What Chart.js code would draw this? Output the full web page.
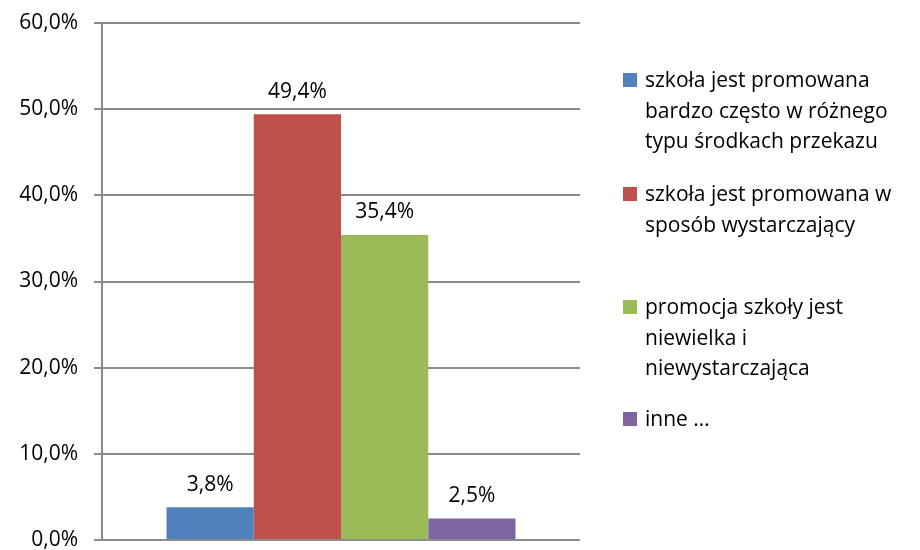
<!DOCTYPE html>
<html>
<head>
<meta charset="utf-8">
<script src="https://cdn.jsdelivr.net/npm/chart.js@4/dist/chart.umd.min.js"></script>
<style>
  html, body { margin: 0; padding: 0; background: #fff; }
  #wrap { position: relative; width: 920px; height: 550px; }
  #c { display: block; }
  #legend { position: absolute; left: 623px; top: 0; font-family: "Open Sans", sans-serif; font-size: 21px; color: #000; }
  .item { position: absolute; left: 0; width: 300px; }
  .sw { position: absolute; left: 0; top: 9px; width: 14px; height: 14px; }
  .txt { position: absolute; left: 22px; top: 0; line-height: 30.5px; white-space: nowrap; }
</style>
</head>
<body>
<div id="wrap">
  <canvas id="c" width="920" height="550"></canvas>
  <div id="legend"></div>
</div>
<script>
const categories = [''];
const seriesNames = [
  ['szkoła jest promowana', 'bardzo często w różnego', 'typu środkach przekazu'],
  ['szkoła jest promowana w', 'sposób wystarczający'],
  ['promocja szkoły jest', 'niewielka i', 'niewystarczająca'],
  ['inne …']
];
const seriesValues = [3.8, 49.4, 35.4, 2.5];
const seriesColors = ['#4F81BD', '#C0504D', '#9BBB59', '#8064A2'];
const yTicks = [0, 10, 20, 30, 40, 50, 60];

const FONT = '"Open Sans", sans-serif';
const fmt = v => v.toFixed(1).replace('.', ',') + '%';

const labelPlugin = {
  id: 'barLabels',
  afterDatasetsDraw(chart) {
    const ctx = chart.ctx;
    ctx.save();
    ctx.font = '21px ' + FONT;
    ctx.fillStyle = '#000';
    ctx.textAlign = 'center';
    ctx.textBaseline = 'bottom';
    chart.data.datasets.forEach((ds, i) => {
      const meta = chart.getDatasetMeta(i);
      meta.data.forEach((bar, j) => {
        ctx.fillText(fmt(ds.data[j]), bar.x, bar.y - 12);
      });
    });
    ctx.restore();
  }
};

const datasets = seriesValues.map((v, i) => ({
  label: seriesNames[i].join(' '),
  data: [v],
  backgroundColor: seriesColors[i],
  borderWidth: 0,
  categoryPercentage: 0.73,
  barPercentage: 1.0
}));

new Chart(document.getElementById('c'), {
  type: 'bar',
  data: { labels: categories, datasets },
  options: {
    responsive: false,
    animation: false,
    layout: { padding: { left: 0, right: 340, top: 23, bottom: 10 } },
    plugins: { legend: { display: false }, tooltip: { enabled: false } },
    scales: {
      x: {
        display: false
      },
      y: {
        min: 0, max: 60,
        afterBuildTicks(s) { s.ticks = yTicks.map(v => ({ value: v })); },
        ticks: {
          callback: v => fmt(v),
          font: { family: FONT, size: 21 },
          color: '#000',
          padding: 16
        },
        grid: { color: '#8C8C8C', lineWidth: 2, tickLength: 8, drawTicks: true },
        border: { display: true, color: '#8C8C8C', width: 2 },
        afterFit(s) { s.width = 102; s.paddingTop = 0; s.paddingBottom = 0; }
      }
    }
  },
  plugins: [labelPlugin]
});

// legend
const legend = document.getElementById('legend');
const slotTops = [64, 178, 291, 403];
seriesNames.forEach((lines, i) => {
  const item = document.createElement('div');
  item.className = 'item';
  item.style.top = slotTops[i] + 'px';
  const sw = document.createElement('div');
  sw.className = 'sw';
  sw.style.background = seriesColors[i];
  const txt = document.createElement('div');
  txt.className = 'txt';
  txt.innerHTML = lines.join('<br>');
  item.appendChild(sw);
  item.appendChild(txt);
  legend.appendChild(item);
});
</script>
</body>
</html>
